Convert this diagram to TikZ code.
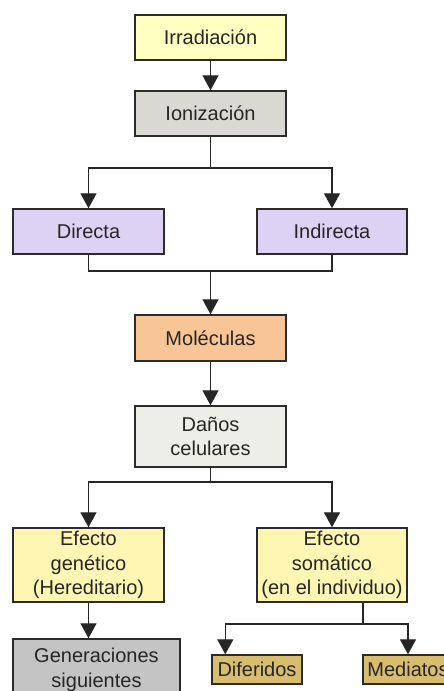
\documentclass[tikz,border=0pt]{standalone}
\usepackage{fontspec}
\setmainfont{Liberation Sans}
\usetikzlibrary{arrows.meta,positioning}

\definecolor{irrfill}{HTML}{FFFFC2}
\definecolor{ionfill}{HTML}{D9D9D2}
\definecolor{dirfill}{HTML}{DCD3F4}
\definecolor{molfill}{HTML}{F8C596}
\definecolor{danfill}{HTML}{EEEEE8}
\definecolor{efefill}{HTML}{FFF6B4}
\definecolor{genfill}{HTML}{C4C4C4}
\definecolor{subfill}{HTML}{D9BD6E}
\definecolor{edgecol}{HTML}{2B2B2B}

\begin{document}
\begin{tikzpicture}[x=1pt,y=1pt,on grid,
    font=\fontsize{20}{24.5}\selectfont,
    box/.style={draw=edgecol,line width=1.4pt,inner sep=0pt,align=center,
      minimum width=151pt,minimum height=45pt,text=black!85},
    small/.style={box,minimum width=90pt,minimum height=29pt},
    link/.style={line width=1.3pt,draw=black!85},
    >={Triangle[width=16pt,length=15pt]}]
  \useasboundingbox (0,0) rectangle (444,-691);

  \node[box,fill=irrfill] (irr) at (210.5,-37.5) {Irradiación};
  \node[box,fill=ionfill] (ion) [below=76pt of irr] {Ionización};
  \node[box,fill=dirfill] (dir) [below left=118pt and 122pt of ion] {Directa};
  \node[box,fill=dirfill,minimum width=150pt] (ind) [right=243.5pt of dir] {Indirecta};
  \node[box,fill=molfill,minimum height=46pt] (mol) [below=224.5pt of ion] {Moléculas};
  \node[box,fill=danfill,minimum height=61pt] (dan) [below=98.5pt of mol] {Daños\\celulares};
  \node[box,fill=efefill,minimum height=74pt] (gen) [below left=128.5pt and 122pt of dan] {Efecto\\genético\\(Hereditario)};
  \node[box,fill=efefill,minimum width=150pt,minimum height=74pt] (som) [right=243.5pt of gen] {Efecto\\somático\\(en el individuo)};
  \node[box,fill=genfill,minimum width=167pt,minimum height=62pt] (gener) [below right=105pt and 8pt of gen] {Generaciones\\siguientes};
  \node[small,fill=subfill] (dif) [below left=104.5pt and 75pt of som] {Diferidos};
  \node[small,fill=subfill] (med) [right=151pt of dif] {Mediatos};

  % branch points
  \coordinate (split1) at (210.5,-168);
  \coordinate (join) at (210.5,-271);
  \coordinate (split2) at (210.5,-482);
  \coordinate (split3) at (363,-624);

  \draw[link,->] (irr) -- (ion);
  \draw[link] (ion) -- (split1);
  \draw[link,->] (split1) -| (dir);
  \draw[link,->] (split1) -| (ind);
  \draw[link] (dir) |- (join) -| (ind);
  \draw[link,->] (join) -- (mol);
  \draw[link,->] (mol) -- (dan);
  \draw[link] (dan) -- (split2);
  \draw[link,->] (split2) -| (gen);
  \draw[link,->] (split2) -| (som);
  \draw[link,->] (gen) -- (gen |- gener.north);
  \draw[link] (som.south -| split3) -- (split3);
  \draw[link,->] (split3) -| ([xshift=14pt]dif.north west);
  \draw[link,->] (split3) -| (med);
\end{tikzpicture}
\end{document}
